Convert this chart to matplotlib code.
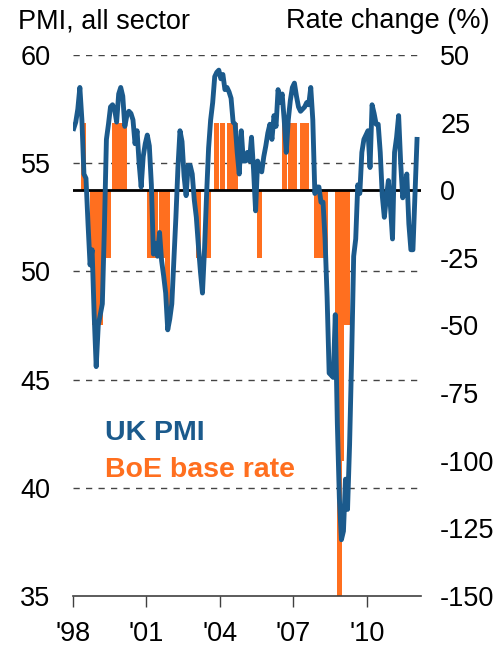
import matplotlib
matplotlib.use("Agg")
import matplotlib.pyplot as plt
import numpy as np

plt.rcParams['font.family'] = ['Liberation Sans', 'DejaVu Sans']

# Monthly UK all-sector PMI, Jan 1998 onwards
pmi = [56.6, 56.9, 57.5, 58.5, 57.0, 54.5, 54.3, 52.2, 50.3, 51.0,
       48.0, 45.6, 47.5, 48.0, 48.5, 52.0, 56.1, 56.8, 57.6, 57.7,
       57.5, 56.9, 58.2, 58.5, 58.1, 56.7, 57.2, 57.4, 57.3, 57.0,
       55.9, 56.5, 55.0, 53.9, 55.3, 55.9, 56.3, 55.8, 54.0, 50.8,
       51.3, 50.7, 51.8, 50.5, 49.8, 49.0, 47.3, 47.8, 48.5, 50.5,
       52.5, 54.8, 56.5, 56.0, 54.4, 53.5, 54.9, 54.9, 54.5, 53.3,
       52.5, 51.2, 50.0, 49.0, 51.0, 53.5, 55.7, 57.0, 57.8, 59.0,
       59.2, 59.3, 58.9, 59.1, 58.4, 58.5, 58.3, 58.0, 56.9, 56.8,
       55.5, 54.5, 56.5, 55.1, 55.1, 55.5, 55.1, 56.2, 54.7, 52.8,
       55.1, 54.7, 54.6, 55.3, 55.8, 56.4, 56.8, 56.1, 57.2, 56.7,
       58.4, 57.8, 58.2, 57.0, 55.5, 57.0, 57.9, 58.5, 58.7, 58.1,
       57.6, 57.4, 57.5, 57.6, 57.8, 57.7, 58.5, 57.0, 53.6, 53.9,
       53.9, 53.2, 53.2, 51.5, 48.8, 45.3, 45.2, 45.1, 48.0, 43.0,
       39.5, 37.6, 38.0, 40.4, 39.0, 42.0, 46.0, 50.7, 51.5, 54.0,
       53.6, 55.5, 56.1, 56.3, 56.5, 54.8, 57.7, 57.3, 56.8, 56.8,
       55.5, 53.5, 52.5, 53.4, 54.2, 53.0, 51.5, 55.5, 56.2, 57.2,
       55.0, 53.4, 53.8, 54.5, 52.2, 51.0, 51.0, 53.5, 56.1]

# BoE base rate changes (basis points): month index from Jan 1998, change
rate_months = [5, 9, 10, 11, 12, 13, 15, 17, 20, 22, 24, 25,
               37, 39, 40, 43, 44, 45, 46, 61, 66,
               70, 73, 76, 77, 79, 91, 103, 106, 108, 112, 114,
               119, 121, 123, 129, 130, 131, 132, 133, 134]
rate_changes = [25, -25, -50, -50, -25, -50, -25, -25, 25, 25, 25, 25,
                -25, -25, -25, -25, -25, -25, -50, -25, -25,
                25, 25, 25, 25, 25, -25, 25, 25, 25, 25, 25,
                -25, -25, -25, -50, -150, -100, -50, -50, -50]

xtick_pos = [0, 36, 72, 108, 144]
xtick_labels = ["'98", "'01", "'04", "'07", "'10"]
left_ticks = [35, 40, 45, 50, 55, 60]
right_ticks = [-150, -125, -100, -75, -50, -25, 0, 25, 50]

blue = '#1B5A8C'
orange = '#FF6F1F'

fig = plt.figure(figsize=(4.93, 6.49), dpi=100)
ax = fig.add_axes([72.7/493, 53/649, 348/493, 541/649])
ax2 = ax.twinx()

# bars on the right axis
xm = np.array(rate_months) + 0.5
ax2.bar(xm, rate_changes, width=2.4, color=orange, linewidth=0, zorder=2)
ax2.axhline(0, color='black', lw=2.0, zorder=3)

# dashed grid lines for left axis, drawn beneath the bars
for g in [40, 45, 50, 55, 60]:
    ax2.plot([0, 1], [g, g], transform=ax.get_yaxis_transform(),
             color='#444444', lw=1.0, dashes=(4.5, 4.5), zorder=1)

# PMI line on top
ax.set_zorder(ax2.get_zorder() + 1)
ax.patch.set_visible(False)
xp = np.arange(len(pmi)) + 0.5
ax.plot(xp, pmi, color=blue, lw=3.5, solid_joinstyle='round', zorder=5)

ax.set_xlim(0, 170.3)
ax.set_ylim(35, 60)
ax2.set_ylim(-150, 50)

ax.set_yticks(left_ticks)
ax.set_yticklabels([str(t) for t in left_ticks])
ax2.set_yticks(right_ticks)
ax2.set_yticklabels([str(t) for t in right_ticks])
ax.set_xticks(xtick_pos)
ax.set_xticklabels(xtick_labels)

for a in (ax, ax2):
    for s in ['top', 'left', 'right']:
        a.spines[s].set_visible(False)
ax2.spines['bottom'].set_visible(False)
ax.spines['bottom'].set_color('#404040')
ax.spines['bottom'].set_linewidth(1.2)

ax.tick_params(axis='y', length=0, pad=16, labelsize=19.5)
ax2.tick_params(axis='y', length=0, pad=14, labelsize=19.5)
ax.tick_params(axis='x', length=8, width=1.0, color='#404040', pad=10, labelsize=19.5)

fig.text(18/493, 1 - 8/649, 'PMI, all sector', fontsize=19.5, ha='left', va='top')
fig.text(490/493, 1 - 8/649, 'Rate change (%)', fontsize=19.5, ha='right', va='top')

fig.text(105/493, 1 - 440/649, 'UK PMI', fontsize=20.5, fontweight='bold', color=blue, ha='left', va='baseline')
fig.text(105/493, 1 - 477/649, 'BoE base rate', fontsize=20.5, fontweight='bold', color=orange, ha='left', va='baseline')

fig.savefig('out.png', dpi=100)
